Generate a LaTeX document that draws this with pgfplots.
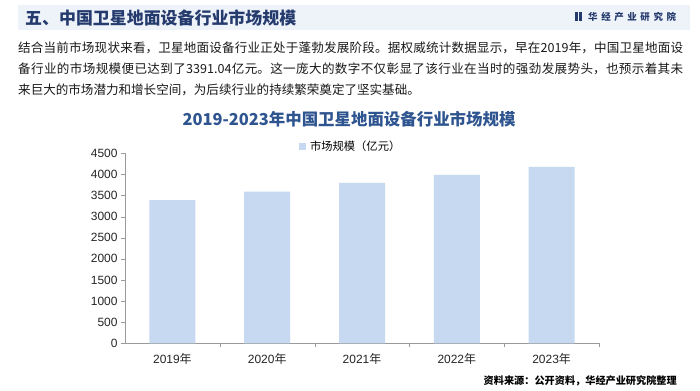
\documentclass[border=0pt]{standalone}
\usepackage{pgfplots}
\pgfplotsset{compat=1.18}
\usepackage{fontspec}
\setmainfont{Liberation Sans}
\newfontfamily\cjk{Noto Sans CJK SC}
\definecolor{barblue}{HTML}{C6D9F1}
\definecolor{hdrbg}{HTML}{EEF2F9}
\definecolor{hdrtxt}{HTML}{253B6E}
\definecolor{ttl}{HTML}{2F5590}
\definecolor{axgray}{HTML}{9A9A9A}
\XeTeXlinebreaklocale "zh"
\XeTeXlinebreakskip = 0pt plus 1pt
\begin{document}
\begin{tikzpicture}[x=1bp,y=1bp]
\path[use as bounding box,fill=white] (0,0) rectangle (700,390);
% header band
\fill[hdrbg] (18,360) rectangle (690,385);
\node[anchor=west,text=hdrtxt,inner sep=0] at (25,372.5) {\cjk\bfseries\fontsize{17}{20}\selectfont 五、中国卫星地面设备行业市场规模};
% logo
\fill[hdrtxt] (575,368.5) rectangle (577.5,377.5);
\fill[hdrtxt] (579,368.5) rectangle (582,377.5);
\node[anchor=west,text=hdrtxt,inner sep=0] at (588,373) {\cjk\bfseries\fontsize{9.5}{11}\selectfont 华\hspace{3.6bp}经\hspace{3.6bp}产\hspace{3.6bp}业\hspace{3.6bp}研\hspace{3.6bp}究\hspace{3.6bp}院};
% paragraph
\node[anchor=north west,inner sep=0,text=black!90] at (18,348) {\parbox[t]{665bp}{\cjk\fontsize{12.6}{21}\selectfont\parindent=0pt
结合当前市场现状来看，卫星地面设备行业正处于蓬勃发展阶段。据权威统计数据显示，早在2019年，中国卫星地面设\linebreak
备行业的市场规模便已达到了3391.04亿元。这一庞大的数字不仅彰显了该行业在当时的强劲发展势头，也预示着其未\linebreak
来巨大的市场潜力和增长空间，为后续行业的持续繁荣奠定了坚实基础。}};
% chart title
\node[text=ttl,inner sep=0] at (349,271) {\cjk\bfseries\fontsize{16.5}{19}\selectfont 2019-2023年中国卫星地面设备行业市场规模};
% legend
\fill[barblue] (299,240) rectangle (306,247);
\node[anchor=west,inner sep=0] at (310,243.5) {\cjk\fontsize{11.3}{13}\selectfont 市场规模（亿元）};
\begin{axis}[
  at={(125bp,46.7bp)}, anchor=south west,
  scale only axis, width=474bp, height=190bp,
  xmin=-0.5, xmax=4.5, ymin=0, ymax=4500,
  axis lines=left, axis line style={axgray,-},
  ytick={0,500,...,4500},
  xtick={0,1,2,3,4},
  xticklabels={2019{\cjk 年},2020{\cjk 年},2021{\cjk 年},2022{\cjk 年},2023{\cjk 年}},
  major x tick style={draw=none},
  minor xtick={0.5,1.5,2.5,3.5,4.5},
  minor x tick style={axgray},
  minor tick length=4bp,
  major tick length=4bp,
  tick align=outside,
  y tick style={axgray},
  ticklabel style={font=\fontsize{12}{14}\selectfont, text=black!85},
  /pgf/number format/assume math mode=true,
  yticklabel style={/pgf/number format/.cd,fixed,1000 sep={}},
  xticklabel style={yshift=-3bp},
  clip=false,
]
\addplot[ybar, bar width=46bp, fill=barblue, draw=none] coordinates {(0,3391.04) (1,3590) (2,3800) (3,3990) (4,4180)};
\end{axis}
% footer
\node[anchor=east,inner sep=0] at (677,9) {\cjk\bfseries\fontsize{10.2}{12}\selectfont 资料来源：公开资料，华经产业研究院整理};
\end{tikzpicture}
\end{document}
